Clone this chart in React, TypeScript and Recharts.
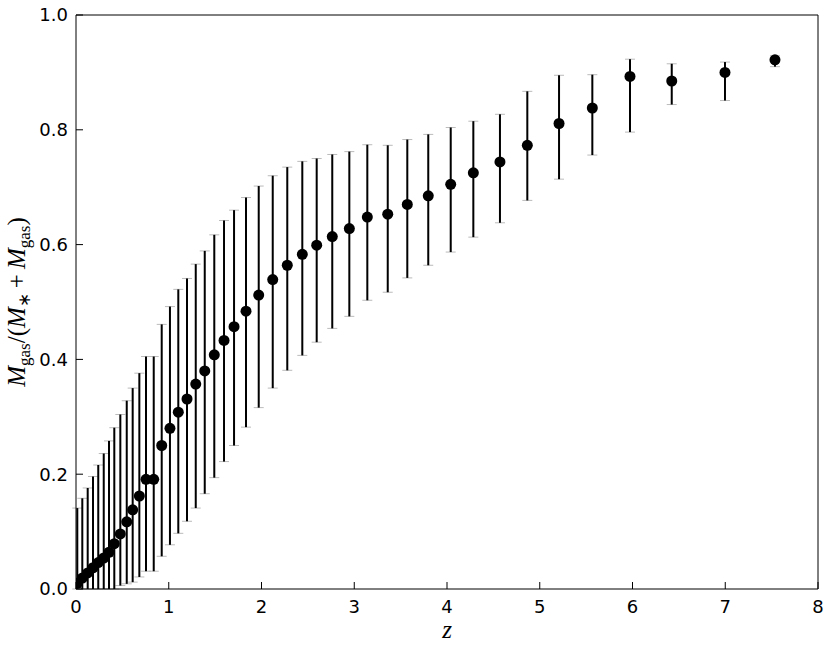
import React from "react";
import { ScatterChart, Scatter, XAxis, YAxis, ErrorBar } from "recharts";

// redshift of each bin
const redshift = [
  0.014, 0.068, 0.126, 0.183, 0.24, 0.299, 0.356, 0.413, 0.478, 0.547, 0.611, 0.683,
  0.755, 0.838, 0.924, 1.013, 1.103, 1.197, 1.291, 1.388, 1.491, 1.596, 1.704, 1.833,
  1.97, 2.121, 2.278, 2.44, 2.595, 2.763, 2.947, 3.141, 3.361, 3.572, 3.798, 4.04,
  4.284, 4.571, 4.866, 5.208, 5.567, 5.973, 6.423, 6.997, 7.536,
];

// M_gas / (M_* + M_gas)
const gasFraction = [
  0.01, 0.019, 0.028, 0.037, 0.046, 0.054, 0.064, 0.079, 0.096, 0.117, 0.138, 0.162,
  0.191, 0.191, 0.25, 0.28, 0.308, 0.331, 0.357, 0.38, 0.408, 0.433, 0.457, 0.484,
  0.512, 0.539, 0.564, 0.583, 0.599, 0.614, 0.628, 0.648, 0.653, 0.67, 0.685, 0.705,
  0.725, 0.744, 0.773, 0.811, 0.838, 0.893, 0.885, 0.9, 0.922,
];

const fracLow = [
  0, 0, 0, 0, 0, 0, 0, 0, 0.006, 0.009, 0.012, 0.021,
  0.031, 0.031, 0.057, 0.077, 0.097, 0.118, 0.141, 0.166, 0.194, 0.222, 0.25, 0.282,
  0.316, 0.35, 0.381, 0.407, 0.43, 0.454, 0.475, 0.503, 0.517, 0.542, 0.564, 0.587,
  0.613, 0.638, 0.677, 0.714, 0.756, 0.796, 0.844, 0.851, 0.91,
];

const fracHigh = [
  0.141, 0.158, 0.176, 0.196, 0.216, 0.236, 0.258, 0.281, 0.304, 0.328, 0.35, 0.376,
  0.405, 0.405, 0.461, 0.492, 0.522, 0.541, 0.566, 0.589, 0.617, 0.642, 0.66, 0.682,
  0.702, 0.72, 0.735, 0.745, 0.75, 0.757, 0.762, 0.774, 0.773, 0.783, 0.792, 0.804,
  0.815, 0.827, 0.867, 0.895, 0.896, 0.923, 0.915, 0.918, 0.929,
];

const xTicks = [0, 1, 2, 3, 4, 5, 6, 7, 8];
const yTicks = [0, 0.2, 0.4, 0.6, 0.8, 1.0];

const data = redshift.map((z, i) => ({
  z,
  frac: gasFraction[i],
  err: [gasFraction[i] - fracLow[i], fracHigh[i] - gasFraction[i]],
}));

const tickFont = { fontFamily: "DejaVu Sans", fontSize: 18, fill: "#000" };
const mathFont = "Liberation Serif";

function YLabel(props: any) {
  const vb = props.viewBox || { x: 0, y: 15, width: 76, height: 574 };
  const cx = 25;
  const cy = vb.y + vb.height / 2;
  return (
    <text
      x={cx}
      y={cy}
      transform={`rotate(-90, ${cx}, ${cy})`}
      textAnchor="middle"
      fontFamily={mathFont}
      fontSize={25}
      fill="#000"
    >
      <tspan fontStyle="italic">M</tspan>
      <tspan fontSize={17} dy={5}>gas</tspan>
      <tspan dy={-5}>/(</tspan>
      <tspan fontStyle="italic">M</tspan>
      <tspan fontSize={17} dy={5}>∗</tspan>
      <tspan dy={-5}>{"\u2009+\u2009"}</tspan>
      <tspan fontStyle="italic">M</tspan>
      <tspan fontSize={17} dy={5}>gas</tspan>
      <tspan dy={-5}>)</tspan>
    </text>
  );
}

function XLabel(props: any) {
  const vb = props.viewBox || { x: 76, y: 589, width: 742, height: 60 };
  return (
    <text
      x={vb.x + vb.width / 2}
      y={638}
      textAnchor="middle"
      fontFamily={mathFont}
      fontStyle="italic"
      fontSize={25}
      fill="#000"
    >
      z
    </text>
  );
}

export default function App() {
  return (
    <div style={{ position: "absolute", left: 0, top: 0, background: "#fff" }}>
      <ScatterChart
        width={830}
        height={649}
        margin={{ top: 14, right: 11, left: 0, bottom: 0 }}
      >
        <XAxis
          xAxisId="b"
          dataKey="z"
          type="number"
          domain={[0, 8]}
          ticks={xTicks}
          allowDataOverflow
          height={60}
          tickSize={-7}
          tickMargin={18}
          tick={tickFont}
          axisLine={{ stroke: "#000", strokeWidth: 1 }}
          tickLine={{ stroke: "#000" }}
          label={<XLabel />}
        />
        <XAxis
          xAxisId="t"
          orientation="top"
          dataKey="z"
          type="number"
          domain={[0, 8]}
          ticks={xTicks}
          allowDataOverflow
          height={1}
          tickSize={-7}
          tick={false}
          axisLine={{ stroke: "#000", strokeWidth: 1 }}
          tickLine={{ stroke: "#000" }}
        />
        <YAxis
          yAxisId="l"
          dataKey="frac"
          type="number"
          domain={[0, 1]}
          ticks={yTicks}
          allowDataOverflow
          width={76}
          tickSize={-7}
          tickMargin={15}
          tick={tickFont}
          tickFormatter={(v: number) => v.toFixed(1)}
          axisLine={{ stroke: "#000", strokeWidth: 1 }}
          tickLine={{ stroke: "#000" }}
          label={<YLabel />}
        />
        <YAxis
          yAxisId="r"
          orientation="right"
          dataKey="frac"
          type="number"
          domain={[0, 1]}
          ticks={yTicks}
          allowDataOverflow
          width={1}
          tickSize={-7}
          tick={false}
          axisLine={{ stroke: "#000", strokeWidth: 1 }}
          tickLine={{ stroke: "#000" }}
        />
        <Scatter
          data={data}
          xAxisId="b"
          yAxisId="l"
          dataKey="frac"
          isAnimationActive={false}
          shape={(p: any) => <circle cx={p.cx} cy={p.cy} r={5.5} fill="#000" />}
        >
          <ErrorBar dataKey="err" direction="y" width={5} stroke="#bbb" strokeWidth={1} isAnimationActive={false} />
          <ErrorBar dataKey="err" direction="y" width={0} stroke="#000" strokeWidth={2} isAnimationActive={false} />
        </Scatter>
      </ScatterChart>
    </div>
  );
}
